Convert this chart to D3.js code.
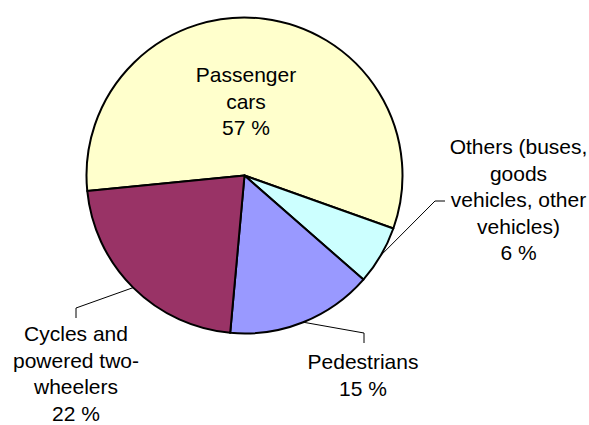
<!DOCTYPE html>
<html>
<head>
<meta charset="utf-8">
<script src="https://cdn.jsdelivr.net/npm/d3@7/dist/d3.min.js"></script>
<style>
  body { margin: 0; background: #fff; }
  text { font-family: "Liberation Sans", Arial, sans-serif; font-size: 21px; fill: #000; }
</style>
</head>
<body>
<div id="chart"></div>
<script>

// data (percent of road deaths)
var categories = ["Passenger cars", "Others (buses, goods vehicles, other vehicles)", "Pedestrians", "Cycles and powered two-wheelers"];
var values = [57, 6, 15, 22];
var labelLines = [
  ["Passenger", "cars", "57 %"],
  ["Others (buses,", "goods", "vehicles, other", "vehicles)", "6 %"],
  ["Pedestrians", "15 %"],
  ["Cycles and", "powered two-", "wheelers", "22 %"]
];
var colors = ["#FFFFCC", "#CCFFFF", "#9999FF", "#993366"];

var width = 589, height = 425;
var cx = 244.5, cy = 175.5, radius = 158;
var lineHeight = 26.6;

// label layout, relative to pie centre: text anchor (first baseline) and leader elbow/end
var labelLayout = [
  {x: 1.5, y: -93.5, leader: null},
  {x: 274, y: -21.5, leader: [[190.5, 25.5], [200.5, 25.5]]},
  {x: 118.5, y: 193.5, leader: [[119.5, 157.5], [119.5, 167.5]]},
  {x: -168.5, y: 165.5, leader: [[-168.5, 132.5], [-168.5, 142.5]]}
];

var svg = d3.select("#chart").append("svg")
    .attr("width", width)
    .attr("height", height);

var g = svg.append("g")
    .attr("transform", "translate(" + cx + "," + cy + ")");

var startAngle = -95.6 * Math.PI / 180;

var pie = d3.pie()
    .sort(null)
    .startAngle(startAngle)
    .endAngle(startAngle + 2 * Math.PI);

var arc = d3.arc().innerRadius(0).outerRadius(radius);

var arcs = pie(values);

g.selectAll("path.slice")
    .data(arcs)
  .enter().append("path")
    .attr("class", "slice")
    .attr("d", arc)
    .attr("fill", function(d, i) { return colors[i]; })
    .attr("stroke", "#000")
    .attr("stroke-width", 2)
    .attr("stroke-linejoin", "round");

// leader lines from the slice edge to the label
arcs.forEach(function(d, i) {
  var lay = labelLayout[i];
  if (!lay.leader) return;
  var mid = (d.startAngle + d.endAngle) / 2;
  var start = [Math.sin(mid) * radius, -Math.cos(mid) * radius];
  var pts = [start].concat(lay.leader);
  g.append("path")
    .attr("d", d3.line()(pts))
    .attr("fill", "none")
    .attr("stroke", "#000")
    .attr("stroke-width", 1);
});

// labels
labelLines.forEach(function(lines, i) {
  var lay = labelLayout[i];
  var t = g.append("text")
    .attr("text-anchor", "middle")
    .attr("x", lay.x)
    .attr("y", lay.y);
  lines.forEach(function(line, j) {
    t.append("tspan")
      .attr("x", lay.x)
      .attr("y", lay.y + j * lineHeight)
      .text(line);
  });
});

</script>
</body>
</html>
